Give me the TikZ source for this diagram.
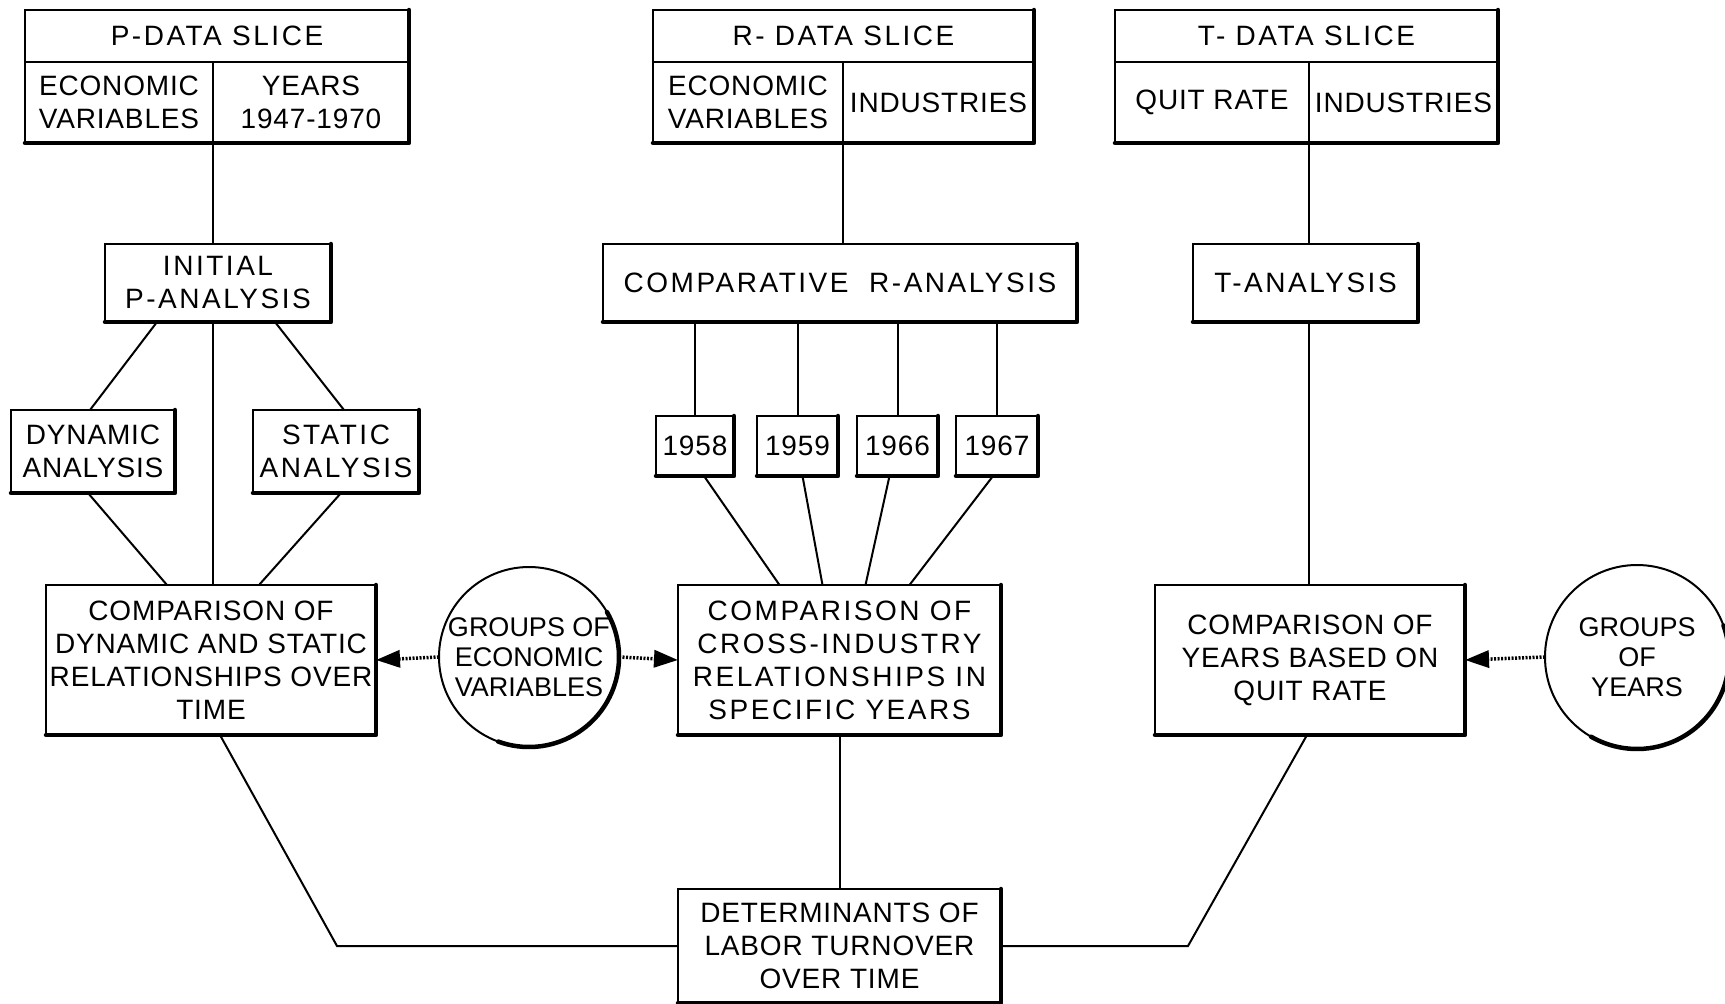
\documentclass[tikz,border=0pt]{standalone}
\usepackage{fontspec}
\setmainfont{Liberation Sans}[LetterSpace=3]
\newfontfamily\spc{Liberation Sans}[LetterSpace=9]
\newfontfamily\tight{Liberation Sans}
\usetikzlibrary{arrows.meta}
\newcommand\mybox[6]{\node[bx, minimum width={(#4-#2)*1pt}, minimum height={(#5-#3)*1pt}] (#1) at ({(#2+#4)/2},{(#3+#5)/2}) {#6};}
\begin{document}
\begin{tikzpicture}[x=1pt,y=-1pt,
  bx/.style={draw, line width=2pt, rectangle, inner sep=0pt, outer sep=0pt, align=center, font=\fontsize{28}{33}\selectfont},
  circ/.style={draw, line width=2pt, circle, inner sep=0pt, outer sep=0pt},
  ctext/.style={inner sep=0pt, align=center, font=\tight\fontsize{27}{30}\selectfont},
  conn/.style={line width=2pt},
  shad/.style={line width=4.5pt, line cap=round, line join=round},
  dotarrow/.style={line width=3.5pt, dash pattern=on 2pt off 1.5pt, -{Triangle[length=24pt,width=17pt]}}]
\useasboundingbox (0,0) rectangle (1725,1004);
\fill[white] (0,0) rectangle (1725,1004);
% data slices
\mybox{pdt}{25}{10}{409}{62}{\spc P-DATA SLICE}
\mybox{pdl}{25}{62}{213}{143}{ECONOMIC\\VARIABLES}
\mybox{pdr}{213}{62}{409}{143}{YEARS\\1947-1970}
\mybox{rdt}{653}{10}{1034}{62}{\spc R- DATA SLICE}
\mybox{rdl}{653}{62}{843}{143}{ECONOMIC\\VARIABLES}
\mybox{rdr}{843}{62}{1034}{143}{INDUSTRIES}
\mybox{tdt}{1115}{10}{1498}{62}{\spc T- DATA SLICE}
\mybox{tdl}{1115}{62}{1309}{143}{QUIT RATE}
\mybox{tdr}{1309}{62}{1498}{143}{INDUSTRIES}
% analyses
\mybox{init}{105}{244}{331}{322}{\spc INITIAL\\\spc P-ANALYSIS}
\mybox{cr}{603}{244}{1077}{322}{\spc COMPARATIVE \ R-ANALYSIS}
\mybox{ta}{1193}{244}{1418}{322}{\spc T-ANALYSIS}
\mybox{dyn}{11}{410}{175}{493}{DYNAMIC\\ANALYSIS}
\mybox{sta}{253}{410}{419}{493}{\spc STATIC\\\spc ANALYSIS}
\mybox{y58}{656}{416}{734}{476}{1958}
\mybox{y59}{757}{416}{838}{476}{1959}
\mybox{y66}{857}{416}{938}{476}{1966}
\mybox{y67}{956}{416}{1038}{476}{1967}
% comparisons
\mybox{c1}{46}{585}{376}{735}{COMPARISON OF\\DYNAMIC AND STATIC\\RELATIONSHIPS OVER\\TIME}
\mybox{c2}{678}{585}{1001}{735}{\spc COMPARISON OF\\\spc CROSS-INDUSTRY\\\spc RELATIONSHIPS IN\\\spc SPECIFIC YEARS}
\mybox{ct}{1155}{585}{1465}{735}{COMPARISON OF\\YEARS BASED ON\\QUIT RATE}
\mybox{det}{678}{889}{1001}{1003}{DETERMINANTS OF\\LABOR TURNOVER\\OVER TIME}
\node[circ, minimum size=180pt] (gev) at (529,657) {};
\node[ctext] (gevt) at (gev.center) {GROUPS OF\\ECONOMIC\\VARIABLES};
\node[circ, minimum size=184pt] (goy) at (1637,657) {};
\node[ctext] (goyt) at (goy.center) {GROUPS\\OF\\YEARS};
% shadows
\foreach \t/\l/\r in {pdt/pdl/pdr, rdt/rdl/rdr, tdt/tdl/tdr}
  \draw[shad] (\t.north east) -- (\r.south east) -- (\l.south west);
\foreach \n in {init,cr,ta,dyn,sta,y58,y59,y66,y67,c1,c2,ct,det}
  \draw[shad] (\n.north east) -- (\n.south east) -- (\n.south west);
\begin{scope}[y=1pt, shift={(gev.center)}]
  \draw[shad] (30:90) arc[start angle=30, end angle=-110, radius=90];
\end{scope}
\begin{scope}[y=1pt, shift={(goy.center)}]
  \draw[shad] (20:92) arc[start angle=20, end angle=-120, radius=92];
\end{scope}
% connectors P
\draw[conn] (pdl.south east) -- (pdl.south east |- init.north);
\draw[conn] (pdl.south east |- init.south) -- (pdl.south east |- c1.north);
\draw[conn] ([xshift=-61]init.south) -- ([xshift=-3]dyn.north);
\draw[conn] ([xshift=57]init.south) -- ([xshift=8]sta.north);
\draw[conn] ([xshift=-5]dyn.south) -- ([xshift=-44]c1.north);
\draw[conn] ([xshift=5]sta.south) -- ([xshift=48]c1.north);
% connectors R
\draw[conn] (rdl.south east) -- (rdl.south east |- cr.north);
\foreach \y in {y58,y59,y66,y67}
  \draw[conn] (\y.north) -- (\y.north |- cr.south);
\draw[conn] ([xshift=9]y58.south) -- ([xshift=-60]c2.north);
\draw[conn] ([xshift=5]y59.south) -- ([xshift=-17]c2.north);
\draw[conn] ([xshift=-8]y66.south) -- ([xshift=26]c2.north);
\draw[conn] ([xshift=-4]y67.south) -- ([xshift=70]c2.north);
\draw[conn] (c2.south) -- (det.north);
% connectors T
\draw[conn] (tdl.south east) -- (tdl.south east |- ta.north);
\draw[conn] (tdl.south east |- ta.south) -- (tdl.south east |- ct.north);
% to determinants
\draw[conn] ([xshift=9]c1.south) -- ([xshift=-341]det.west) -- (det.west);
\draw[conn] ([xshift=-3]ct.south) -- ([xshift=187]det.east) -- (det.east);
% dotted arrows
\draw[dotarrow] (gev.west) -- (c1.east);
\draw[dotarrow] (gev.east) -- (c2.west);
\draw[dotarrow] (goy.west) -- (ct.east);
\end{tikzpicture}
\end{document}
